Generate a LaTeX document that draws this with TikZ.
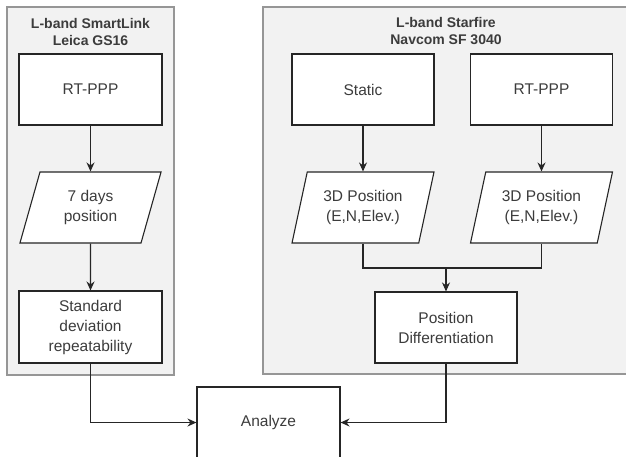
\documentclass[tikz,border=0pt]{standalone}
\usepackage{fontspec}
\setmainfont{Liberation Sans}
\definecolor{main}{RGB}{60,60,60}
\definecolor{panel}{RGB}{242,242,242}
\definecolor{panelline}{RGB}{150,150,150}
\usepackage{tikz}
\usetikzlibrary{
	arrows.meta,
	positioning,
	shapes.geometric % trapezium
}
\tikzset{
  % arrow
	cstra/.style      ={-{Stealth[length=9pt,width=8pt]}, line width=1.1pt, draw=black!85}, % right arrow
	cstline/.style    ={line width=1.1pt, draw=black!85},
  % node
	cstpanel/.style   ={fill=panel,draw=panelline,line width=1.5pt,minimum width=167pt,minimum height=368pt},
	csttitle/.style   ={text=main,font=\fontsize{14}{17}\selectfont\bfseries,align=center},
	cstnode/.style    ={fill=white,draw=black!85,text=main,font=\fontsize{15.5}{20}\selectfont,align=center,line width=1.1pt,minimum width=143pt,minimum height=71pt,inner sep=2pt},
	cstdata/.style    ={cstnode,trapezium,trapezium left angle=73.5,trapezium right angle=106.5,trapezium stretches=true,minimum width=142pt}
}
\begin{document}
\begin{tikzpicture}[x=1pt,y=-1pt]
				\useasboundingbox (0,0) rectangle (626,456);
				% panels
				\node[cstpanel] (leica) at (90.5,191) {};
				\node[cstpanel,minimum width=367pt,minimum height=367pt] (navcom) at (446.5,190.5) {};
				\node[csttitle] (leicatitle) at (90.5,31.5) {L-band SmartLink\\Leica GS16};
				\node[csttitle] (navcomtitle) at (446,31.5) {L-band Starfire\\Navcom SF 3040};
				% left column
				\node[cstnode] (rtppp1) at (90.5,89.5) {RT-PPP};
				\node[cstdata] (days) at (90.5,207.5) {7 days\\position};
				\node[cstnode,minimum height=72pt] (stddev) at (90.5,327) {Standard\\deviation\\repeatability};
				% right column
				\node[cstnode,minimum width=142pt] (static) at (363,89.5) {Static};
				\node[cstnode,minimum width=142pt] (rtppp2) at (541.5,89.5) {RT-PPP};
				\node[cstdata] (pos1) at (363,207.5) {3D Position\\(E,N,Elev.)};
				\node[cstdata] (pos2) at (541.5,207.5) {3D Position\\(E,N,Elev.)};
				\node[cstnode,minimum width=142pt] (diff) at (446,327.5) {Position\\Differentiation};
				\node[cstnode] (analyze) at (268.5,422.5) {Analyze};
				\coordinate (merge) at (446,268);
				% arrows
				\draw[cstra] (rtppp1) -- (days);
				\draw[cstra] (days) -- (stddev);
				\draw[cstra] (static) -- (pos1);
				\draw[cstra] (rtppp2) -- (pos2);
				\draw[cstline] (pos1) |- (merge) -| (pos2);
				\draw[cstra] (merge) -- (diff);
				\draw[cstra] (stddev) |- (analyze);
				\draw[cstra] (diff) |- (analyze);
			\end{tikzpicture}
\end{document}
